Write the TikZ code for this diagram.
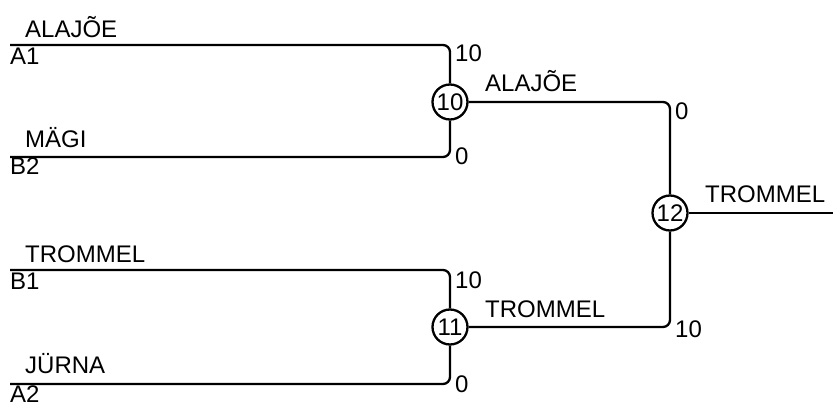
\documentclass[tikz,border=0pt]{standalone}
\usepackage{fontspec}
\setmainfont{Liberation Sans}
\begin{document}
\begin{tikzpicture}[x=1pt,y=-1pt,
  wire/.style={line width=2.3pt,rounded corners=7pt},
  lbl/.style={anchor=base west,inner sep=0pt,font=\fontsize{24}{24}\selectfont},
  match/.style={circle,draw,line width=2.3pt,minimum size=35pt,inner sep=0pt,font=\fontsize{24}{24}\selectfont}]
\useasboundingbox (0,0) rectangle (833,406);
% matches
\node[match] (c10) at (450,102) {10};
\node[match] (c11) at (450,327) {11};
\node[match] (c12) at (670,213) {12};
% line starts
\coordinate (a1) at (10,45);
\coordinate (b2) at (10,157);
\coordinate (b1) at (10,270);
\coordinate (a2) at (10,384);
\coordinate (out) at (833,213);
% wires
\draw[wire] (a1) -| (c10.north);
\draw[wire] (b2) -| (c10.south);
\draw[wire] (b1) -| (c11.north);
\draw[wire] (a2) -| (c11.south);
\draw[wire] (c10.east) -| (c12.north);
\draw[wire] (c11.east) -| (c12.south);
\draw[wire] (c12.east) -- (out);
% left labels
\node[lbl] (nA1) at (25,38) {ALAJÕE};
\node[lbl] (sA1) at (10,65) {A1};
\node[lbl] (nB2) at (25,148) {MÄGI};
\node[lbl] (sB2) at (10,175) {B2};
\node[lbl] (nB1) at (25,262) {TROMMEL};
\node[lbl] (sB1) at (10,290) {B1};
\node[lbl] (nA2) at (25,373) {JÜRNA};
\node[lbl] (sA2) at (10,402) {A2};
% scores
\node[lbl] (s1) at (455,62) {10};
\node[lbl] (s2) at (455,165) {0};
\node[lbl] (s3) at (455,288) {10};
\node[lbl] (s4) at (455,392) {0};
\node[lbl] (s5) at (675,120) {0};
\node[lbl] (s6) at (675,337) {10};
% winners
\node[lbl] (w10) at (485,92) {ALAJÕE};
\node[lbl] (w11) at (485,317) {TROMMEL};
\node[lbl] (w12) at (705,203) {TROMMEL};
\end{tikzpicture}
\end{document}
